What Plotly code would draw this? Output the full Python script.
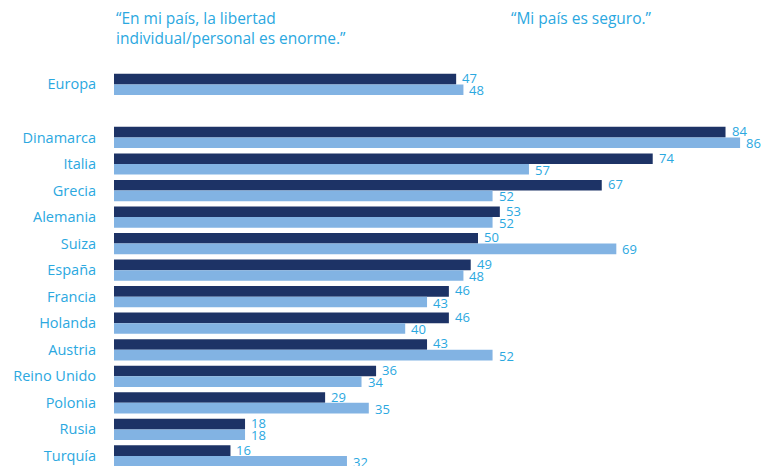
import plotly.graph_objects as go

# Survey results (% agreeing), Europe average first, then countries
countries = ["Europa", "Dinamarca", "Italia", "Grecia", "Alemania", "Suiza", "España",
             "Francia", "Holanda", "Austria", "Reino Unido", "Polonia", "Rusia", "Turquía"]
libertad = [47, 84, 74, 67, 53, 50, 49, 46, 46, 43, 36, 29, 18, 16]
seguro = [48, 86, 57, 52, 52, 69, 48, 43, 40, 52, 34, 35, 18, 32]

header_libertad = "“En mi país, la libertad<br>individual/personal es enorme.”"
header_seguro = "“Mi país es seguro.”"

DARK = "#1d3366"
LIGHT = "#82b3e3"
TEXT = "#2ba8df"
FONT = "'Open Sans', sans-serif"

# Europe sits on its own row, followed by a blank row before the countries
rows = [0] + [i + 2 for i in range(len(countries) - 1)]
BAR_W = 0.4

fig = go.Figure()
fig.add_trace(go.Bar(
    y=rows, x=libertad, orientation="h", width=BAR_W, offset=-BAR_W,
    marker=dict(color=DARK, line=dict(width=0)), showlegend=False, hoverinfo="x",
))
fig.add_trace(go.Bar(
    y=rows, x=seguro, orientation="h", width=BAR_W, offset=0,
    marker=dict(color=LIGHT, line=dict(width=0)), showlegend=False, hoverinfo="x",
))

# Value labels just past the end of each bar, nudged apart within each pair
annotations = []
for r, v in zip(rows, libertad):
    annotations.append(dict(x=v, y=r - BAR_W / 2, text=str(v), xanchor="left", yanchor="middle",
                            xshift=5, yshift=1, borderpad=0, showarrow=False,
                            font=dict(size=13, color=TEXT, family=FONT)))
for r, v in zip(rows, seguro):
    annotations.append(dict(x=v, y=r + BAR_W / 2, text=str(v), xanchor="left", yanchor="middle",
                            xshift=5, yshift=-0.5, borderpad=0, showarrow=False,
                            font=dict(size=13, color=TEXT, family=FONT)))

annotations += [
    dict(text=header_libertad, xref="paper", yref="paper", x=0, y=1 - 5 / 466,
         xanchor="left", yanchor="top", align="left", showarrow=False,
         font=dict(size=15.5, color=TEXT, family=FONT)),
    dict(text=header_seguro, xref="paper", yref="paper", x=(509 - 114) / 655, y=1 - 5 / 466,
         xanchor="left", yanchor="top", align="left", showarrow=False,
         font=dict(size=15.5, color=TEXT, family=FONT)),
]

fig.update_layout(
    width=769, height=466,
    margin=dict(l=114, r=0, t=0, b=0),
    paper_bgcolor="white", plot_bgcolor="white",
    barmode="overlay",
    font=dict(family=FONT, color=TEXT),
    xaxis=dict(range=[0, 655 / 7.28], visible=False, fixedrange=True),
    yaxis=dict(
        range=[14.38, -3.18], tickmode="array", tickvals=rows, ticktext=countries,
        ticks="outside", ticklen=14, tickcolor="rgba(0,0,0,0)",
        showgrid=False, zeroline=False, showline=False,
        tickfont=dict(size=14.5, color=TEXT, family=FONT),
    ),
    annotations=annotations,
)

fig.write_html("out.html")
